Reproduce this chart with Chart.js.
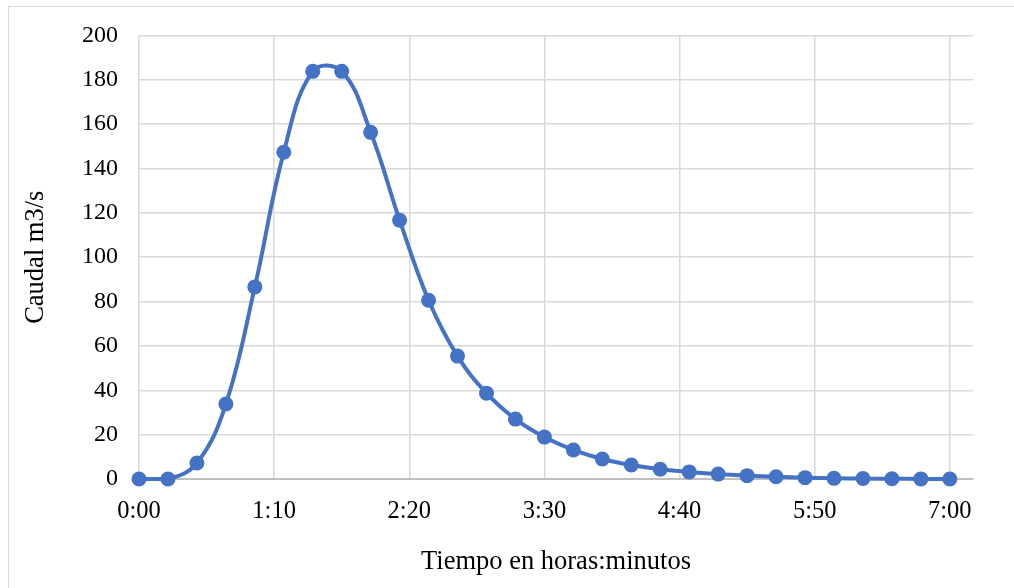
<!DOCTYPE html>
<html>
<head>
<meta charset="utf-8">
<script src="https://cdn.jsdelivr.net/npm/chart.js@4.4.1/dist/chart.umd.min.js"></script>
<style>
  html, body { margin: 0; padding: 0; background: #ffffff; overflow: hidden; }
  #frame {
    position: absolute; left: 8px; top: 6px; width: 1010px; height: 590px;
    border: 1px solid #d9d9d9; box-sizing: border-box;
  }
  #wrap { position: absolute; left: 0; top: 0; width: 1014px; height: 588px; }
</style>
</head>
<body>
<div id="frame"></div>
<div id="wrap"><canvas id="chart" width="1014" height="588"></canvas></div>
<script>
// Hydrograph: discharge every 15 minutes (time in minutes from start)
const timeMinutes = [0, 15, 30, 45, 60, 75, 90, 105, 120, 135, 150, 165, 180, 195, 210,
  225, 240, 255, 270, 285, 300, 315, 330, 345, 360, 375, 390, 405, 420];
const caudal = [0, 0, 7.2, 33.8, 86.6, 147.3, 183.8, 183.8, 156.3, 116.7, 80.6, 55.4, 38.7,
  27.0, 18.9, 13.1, 9.0, 6.3, 4.4, 3.2, 2.2, 1.5, 1.0, 0.6, 0.3, 0.2, 0.1, 0.05, 0];
// Horizontal axis ticks (minutes) and vertical axis range
const xTickMinutes = [0, 70, 140, 210, 280, 350, 420];
const xAxisMax = 432;
const yTicks = [0, 20, 40, 60, 80, 100, 120, 140, 160, 180, 200];

const fmtTime = m => Math.floor(m / 60) + ':' + String(m % 60).padStart(2, '0');
const points = timeMinutes.map((t, i) => ({ x: t, y: caudal[i] }));

const blue = '#4472C4';
const gridColor = '#d9d9d9';
const serif = '"Liberation Serif", "Times New Roman", serif';

new Chart(document.getElementById('chart'), {
  type: 'line',
  data: {
    datasets: [{
      data: points,
      borderColor: blue,
      backgroundColor: blue,
      borderWidth: 4,
      pointRadius: 7.5,
      pointHoverRadius: 7.5,
      pointBorderWidth: 0,
      tension: 0.4,
      fill: false,
      clip: false
    }]
  },
  options: {
    responsive: false,
    animation: false,
    events: [],
    layout: { padding: { left: 0, right: 41, top: 35, bottom: 0 } },
    plugins: { legend: { display: false }, tooltip: { enabled: false } },
    scales: {
      x: {
        type: 'linear',
        min: 0,
        max: xAxisMax,
        afterBuildTicks: s => { s.ticks = xTickMinutes.map(v => ({ value: v })); },
        afterFit: s => { s.height = 109; },
        grid: { color: gridColor, lineWidth: 1.5, drawTicks: false },
        border: { display: true, color: '#bfbfbf', width: 2 },
        ticks: {
          color: '#000000',
          font: { family: serif, size: 24.5 },
          padding: 18,
          maxRotation: 0,
          autoSkip: false,
          callback: v => fmtTime(v)
        },
        title: {
          display: true,
          text: 'Tiempo en horas:minutos',
          color: '#000000',
          font: { family: serif, size: 26.5 },
          padding: { top: 0, bottom: 10 }
        }
      },
      y: {
        type: 'linear',
        min: 0,
        max: 200,
        afterBuildTicks: s => { s.ticks = yTicks.map(v => ({ value: v })); },
        afterFit: s => { s.width = 139; },
        grid: { color: gridColor, lineWidth: 1.5, drawTicks: false },
        border: { display: false },
        ticks: {
          color: '#000000',
          font: { family: serif, size: 24 },
          padding: 21
        },
        title: {
          display: true,
          text: 'Caudal m3/s',
          color: '#000000',
          font: { family: serif, size: 26.5 },
          padding: { top: 20, bottom: 0 }
        }
      }
    }
  }
});
</script>
</body>
</html>
